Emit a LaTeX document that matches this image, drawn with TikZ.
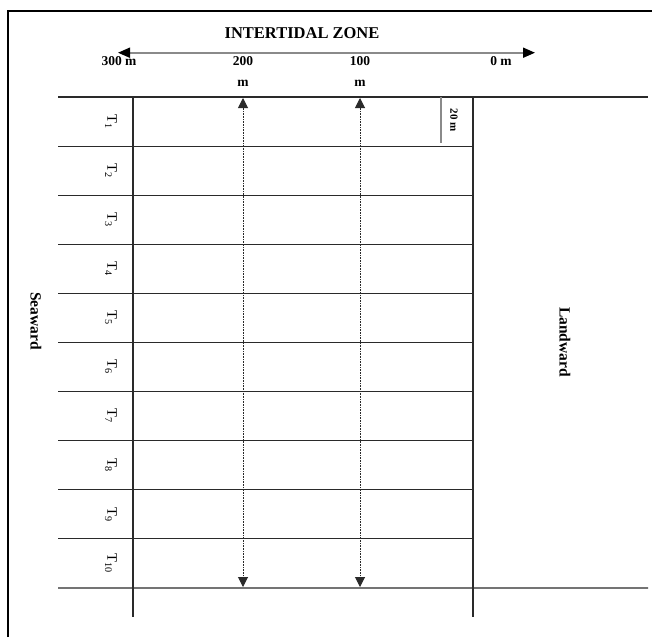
\documentclass[tikz,border=0pt]{standalone}
\usepackage{fontspec}
\setmainfont{Liberation Serif}
\usetikzlibrary{arrows.meta}
\definecolor{gridc}{HTML}{2A2A2A}
\definecolor{axisc}{HTML}{8A8A8A}
\tikzset{
  gridline/.style={draw=gridc, line width=1.1pt},
  frameline/.style={draw=black, line width=2pt},
  toplabel/.style={font=\bfseries\fontsize{13.5}{15}\selectfont, inner sep=0pt},
  tlabel/.style={font=\fontsize{14.5}{16}\selectfont, rotate=-90, inner sep=0pt},
  sidelabel/.style={font=\bfseries\fontsize{15.5}{17}\selectfont, rotate=-90, inner sep=0pt},
  dotarrow/.style={draw=gridc, line width=1pt, dash pattern=on 0.8pt off 0.8pt, {Triangle[length=10pt,width=10pt]}-{Triangle[length=10pt,width=10pt]}},
  axisarrow/.style={draw=axisc, line width=1.8pt, {Triangle[length=12pt,width=10pt,fill=black,color=black]}-{Triangle[length=12pt,width=10pt,fill=black,color=black]}}
}
\begin{document}
\begin{tikzpicture}[x=1pt,y=-1pt]
\useasboundingbox (0,0) rectangle (652,637);
% frame
\coordinate (fbl) at (8,637);
\coordinate (ftl) at (8,11);
\coordinate (ftr) at (652,11);
\draw[frameline] (fbl) -- (ftl) -- (ftr);
% title and axis
\node[toplabel, font=\bfseries\fontsize{16.5}{18}\selectfont] (title) at (302,33) {INTERTIDAL ZONE};
\coordinate (axl) at (118,52.7);
\coordinate (axr) at (535,52.7);
\draw[axisarrow] (axl) -- (axr);
\node[toplabel] (l300) at (119,61) {300 m};
\node[toplabel] (l200) at (243,61) {200};
\node[toplabel] (m200) at (243,83) {m};
\node[toplabel] (l100) at (360,61) {100};
\node[toplabel] (m100) at (360,83) {m};
\node[toplabel] (l0) at (501,61) {0 m};
% grid
\foreach \i in {0,...,10} {
  \coordinate (rl\i) at (58,{97+49.1*\i});
  \coordinate (rr\i) at (473,{97+49.1*\i});
}
\coordinate (rrx0) at (648,97);
\coordinate (rrx10) at (648,588);
\draw[gridline] (rl0) -- (rrx0);
\draw[gridline] (rl10) -- (rrx10);
\foreach \i in {1,...,9} { \draw[gridline] (rl\i) -- (rr\i); }
\coordinate (va) at (133,97);
\coordinate (vab) at (133,617);
\coordinate (vb) at (473,97);
\coordinate (vbb) at (473,617);
\draw[gridline] (va) -- (vab);
\draw[gridline] (vb) -- (vbb);
% 20 m marker
\coordinate (sm) at (441,97);
\coordinate (smb) at (441,143);
\draw[draw=axisc, line width=1.6pt] (sm) -- (smb);
\node[font=\bfseries\fontsize{11}{12}\selectfont, rotate=-90, inner sep=0pt] (twenty) at (454,120) {20 m};
% dotted arrows
\coordinate (a2t) at (243,98);
\coordinate (a2b) at (243,587);
\coordinate (a1t) at (360,98);
\coordinate (a1b) at (360,587);
\draw[dotarrow] (a2t) -- (a2b);
\draw[dotarrow] (a1t) -- (a1b);
% T labels
\foreach \i in {1,...,10} {
  \node[tlabel] (T\i) at (111,{97+49.1*(\i-0.5)}) {T\textsubscript{\i}};
}
% side labels
\node[sidelabel] (sea) at (36,321) {Seaward};
\node[sidelabel] (land) at (565,342) {Landward};
\end{tikzpicture}
\end{document}
